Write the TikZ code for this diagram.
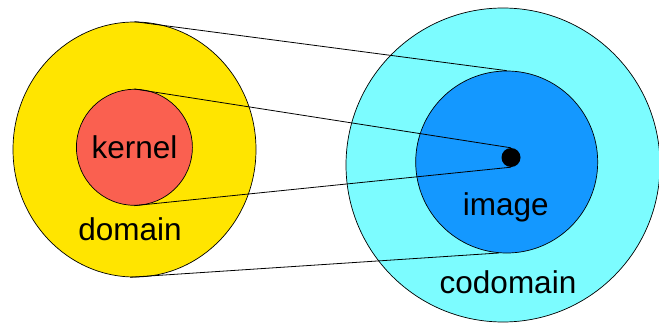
\documentclass[tikz,border=0pt]{standalone}
\usepackage{fontspec}
\setmainfont{Liberation Sans}
\usetikzlibrary{shapes.geometric}

\definecolor{domyellow}{RGB}{255,229,0}
\definecolor{kerred}{RGB}{250,96,80}
\definecolor{codcyan}{RGB}{124,252,255}
\definecolor{imgblue}{RGB}{20,152,255}

\tikzset{
    setshape/.style={draw=black,line width=0.7pt,inner sep=0pt},
    setlabel/.style={anchor=base,inner sep=0pt,font=\fontsize{31.5}{36}\selectfont},
    mapline/.style={black,line width=0.8pt}
}

\begin{document}
\begin{tikzpicture}[x=1pt,y=1pt]
    \useasboundingbox (0,0) rectangle (659,325);

    % Draw the sets
    \node[setshape,ellipse,fill=domyellow,minimum width=243pt,minimum height=255pt] (domainset) at (134.5,175.5) {};
    \node[setshape,circle,fill=kerred,minimum size=116pt,font=\fontsize{31.5}{36}\selectfont] (kernelset) at (134.4,177.7) {kernel};
    \node[setshape,circle,fill=codcyan,minimum size=314pt] (codomainset) at (503,160) {};
    \node[setshape,circle,fill=imgblue,minimum size=182pt] (imageset) at (506.7,163) {};

    % Draw the point
    \node[circle,fill=black,inner sep=0pt,minimum size=19pt] (pt) at (511,167.5) {};

    % Label the sets
    \node[setlabel] (domainlbl) at (130,85) {domain};
    \node[setlabel] (imagelbl) at (505.7,110) {image};
    \node[setlabel] (codomainlbl) at (508,32) {codomain};

    % Draw the mapping lines
    \draw[mapline] (domainset.north) -- (imageset.north);
    \draw[mapline] (domainset.-92) -- (imageset.-95);
    \draw[mapline] (kernelset.north) -- (pt.north);
    \draw[mapline] (kernelset.south) -- (pt.south);

\end{tikzpicture}
\end{document}
